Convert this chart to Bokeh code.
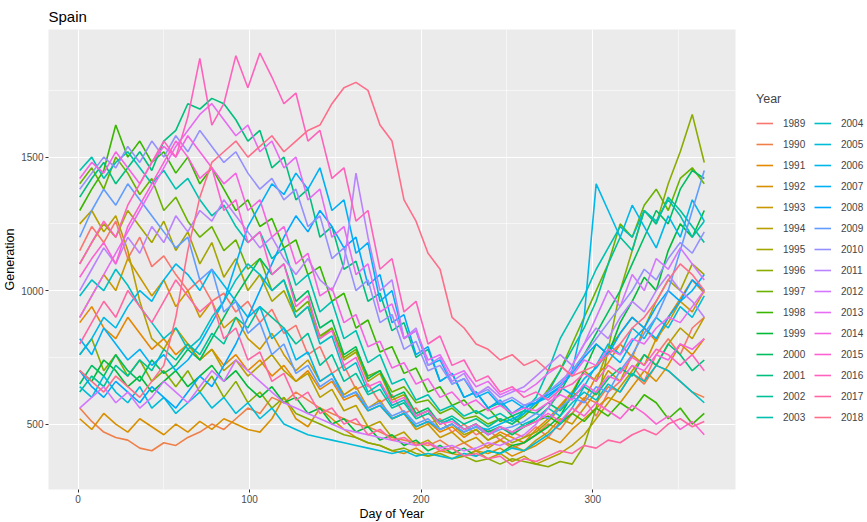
import math
from bokeh.plotting import figure
from bokeh.models import Range1d, FixedTicker, Legend, LegendItem
from bokeh.embed import file_html
from bokeh.resources import INLINE

# Weekly sampling days of the year
days = [1, 8, 15, 22, 29, 36, 43, 50, 57, 64, 71, 78, 85, 92, 99, 106, 113, 120,
        127, 134, 141, 148, 155, 162, 169, 176, 183, 190, 197, 204, 211, 218, 225,
        232, 239, 246, 253, 260, 267, 274, 281, 288, 295, 302, 309, 316, 323, 330,
        337, 344, 351, 358, 365]

years = [1989, 1990, 1991, 1992, 1993, 1994, 1995, 1996, 1997, 1998,
         1999, 2000, 2001, 2002, 2003, 2004, 2005, 2006, 2007, 2008,
         2009, 2010, 2011, 2012, 2013, 2014, 2015, 2016, 2017, 2018]

# Generation per year, one value per sampling day
gen_1989 = [1150, 1240, 1180, 1260, 1120, 1200, 1090, 1130, 1060, 1000, 1040, 960, 990, 920, 960, 880, 930, 840, 870, 760, 790, 690, 720, 630, 650, 580, 610, 540, 560, 500, 520, 470, 500, 460, 480, 440, 470, 450, 490, 450, 510, 540, 590, 530, 620, 660, 720, 660, 760, 820, 760, 860, 900]
gen_1990 = [560, 510, 470, 450, 440, 410, 400, 430, 420, 450, 470, 500, 480, 520, 560, 540, 600, 580, 620, 590, 560, 540, 520, 500, 490, 470, 450, 440, 430, 420, 440, 410, 430, 400, 420, 440, 410, 430, 460, 500, 480, 540, 600, 580, 640, 620, 690, 650, 720, 700, 660, 620, 600]
gen_1991 = [880, 940, 860, 820, 900, 840, 780, 820, 760, 800, 740, 780, 720, 760, 700, 740, 680, 720, 660, 700, 630, 660, 590, 610, 550, 570, 520, 540, 490, 510, 470, 490, 450, 480, 440, 470, 450, 430, 480, 520, 570, 620, 590, 680, 730, 800, 750, 860, 810, 900, 970, 1040, 990]
gen_1992 = [520, 480, 540, 500, 470, 520, 490, 460, 500, 470, 510, 480, 520, 500, 480, 470, 520, 600, 520, 490, 560, 520, 480, 450, 430, 420, 400, 390, 410, 380, 400, 390, 380, 400, 390, 410, 380, 400, 420, 450, 430, 480, 520, 560, 600, 580, 640, 700, 660, 720, 800, 760, 820]
gen_1993 = [900, 980, 1060, 1000, 1120, 1050, 980, 1040, 940, 1000, 900, 960, 860, 900, 820, 780, 840, 760, 700, 740, 660, 690, 610, 640, 560, 590, 520, 540, 480, 500, 450, 470, 430, 450, 410, 440, 420, 400, 440, 470, 520, 500, 560, 620, 700, 660, 760, 720, 820, 880, 960, 920, 1000]
gen_1994 = [1250, 1300, 1220, 1280, 1150, 960, 820, 780, 860, 800, 740, 780, 700, 740, 680, 720, 760, 700, 660, 690, 600, 630, 550, 570, 490, 510, 450, 470, 420, 440, 400, 410, 380, 400, 370, 390, 360, 380, 350, 370, 390, 420, 460, 520, 580, 640, 700, 760, 720, 800, 860, 820, 900]
gen_1995 = [1100, 1180, 1250, 1200, 1300, 1240, 1180, 1260, 1150, 1220, 1100, 1180, 1050, 1120, 1000, 1060, 960, 1000, 900, 940, 820, 860, 740, 770, 660, 690, 590, 610, 530, 550, 480, 500, 460, 480, 440, 460, 430, 450, 470, 510, 560, 620, 700, 660, 780, 840, 900, 860, 960, 1040, 1000, 1100, 1060]
gen_1996 = [760, 820, 700, 760, 680, 740, 660, 700, 640, 700, 620, 680, 600, 660, 580, 620, 560, 600, 540, 520, 500, 480, 460, 450, 430, 420, 400, 410, 390, 380, 390, 370, 380, 360, 370, 350, 370, 360, 350, 340, 360, 350, 420, 560, 780, 1000, 1150, 1300, 1250, 1400, 1520, 1660, 1480]
gen_1997 = [1400, 1460, 1380, 1500, 1440, 1360, 1420, 1300, 1350, 1260, 1200, 1240, 1150, 1190, 1080, 1120, 1000, 1040, 920, 960, 830, 860, 750, 780, 680, 700, 620, 640, 580, 590, 540, 560, 520, 530, 500, 520, 500, 530, 570, 630, 700, 800, 900, 1000, 1100, 1250, 1200, 1320, 1380, 1300, 1420, 1460, 1400]
gen_1998 = [1300, 1380, 1450, 1620, 1500, 1560, 1480, 1520, 1440, 1500, 1400, 1460, 1380, 1300, 1340, 1240, 1270, 1160, 1190, 1060, 1090, 960, 990, 860, 890, 770, 790, 690, 710, 620, 640, 570, 590, 540, 560, 510, 530, 490, 510, 530, 500, 540, 510, 560, 530, 580, 550, 610, 580, 520, 560, 500, 540]
gen_1999 = [700, 660, 740, 700, 640, 680, 620, 660, 700, 640, 680, 720, 660, 700, 640, 600, 640, 580, 600, 540, 560, 500, 520, 470, 490, 440, 460, 420, 440, 400, 420, 390, 410, 380, 400, 390, 420, 430, 460, 490, 530, 610, 700, 800, 760, 880, 960, 1050, 1000, 1150, 1250, 1200, 1300]
gen_2000 = [650, 720, 680, 760, 700, 660, 740, 690, 720, 780, 740, 820, 900, 980, 1050, 1120, 1060, 1100, 960, 1000, 860, 890, 760, 790, 670, 700, 600, 620, 540, 560, 500, 520, 480, 500, 470, 490, 460, 490, 520, 560, 620, 700, 760, 840, 920, 1000, 1100, 1200, 1300, 1250, 1380, 1450, 1420]
gen_2001 = [1350, 1420, 1480, 1400, 1460, 1520, 1450, 1560, 1600, 1700, 1680, 1720, 1700, 1640, 1560, 1600, 1460, 1500, 1340, 1380, 1200, 1240, 1080, 1110, 960, 990, 850, 880, 750, 780, 660, 690, 600, 620, 560, 580, 530, 550, 540, 580, 550, 600, 640, 610, 670, 710, 680, 760, 720, 800, 760, 700, 740]
gen_2002 = [620, 680, 640, 720, 680, 740, 700, 780, 740, 800, 760, 840, 800, 900, 860, 940, 900, 860, 800, 840, 720, 760, 660, 690, 610, 630, 560, 580, 520, 540, 510, 530, 500, 520, 490, 520, 500, 540, 580, 620, 700, 780, 860, 960, 1100, 1200, 1150, 1300, 1250, 1350, 1300, 1240, 1180]
gen_2003 = [1450, 1500, 1420, 1480, 1520, 1460, 1400, 1450, 1380, 1420, 1340, 1280, 1320, 1240, 1180, 1220, 1120, 1160, 1020, 1060, 920, 960, 820, 850, 730, 760, 650, 670, 590, 610, 550, 570, 530, 550, 520, 540, 510, 550, 600, 700, 820, 900, 980, 1080, 1160, 1240, 1200, 1300, 1260, 1340, 1280, 1200, 1260]
gen_2004 = [980, 1040, 1000, 1080, 1020, 940, 880, 820, 860, 780, 820, 900, 960, 1040, 1100, 1060, 1000, 1040, 900, 940, 800, 830, 700, 730, 620, 650, 570, 590, 530, 550, 500, 520, 480, 500, 460, 490, 470, 500, 520, 560, 530, 580, 620, 590, 650, 620, 690, 660, 720, 700, 660, 620, 580]
gen_2005 = [640, 600, 680, 620, 580, 640, 560, 600, 540, 580, 620, 560, 600, 540, 580, 520, 560, 500, 480, 460, 450, 440, 430, 420, 410, 400, 390, 400, 380, 390, 380, 370, 390, 380, 400, 390, 410, 400, 430, 460, 500, 560, 640, 720, 800, 760, 860, 820, 900, 860, 940, 900, 980]
gen_2006 = [760, 820, 900, 860, 940, 1000, 960, 1040, 1100, 1060, 1000, 1080, 1020, 960, 900, 940, 820, 860, 740, 770, 660, 690, 600, 620, 550, 570, 520, 540, 490, 510, 480, 500, 470, 490, 480, 500, 520, 540, 580, 620, 650, 700, 900, 1400, 1300, 1200, 1320, 1240, 1160, 1280, 1200, 1340, 1260]
gen_2007 = [820, 760, 860, 800, 740, 780, 720, 760, 700, 740, 800, 880, 960, 1100, 1240, 1320, 1400, 1360, 1440, 1380, 1460, 1300, 1340, 1140, 1180, 960, 1000, 820, 850, 720, 740, 650, 670, 600, 620, 570, 590, 560, 580, 600, 640, 610, 670, 710, 770, 730, 810, 860, 820, 900, 960, 1000, 1060]
gen_2008 = [700, 640, 600, 660, 620, 580, 640, 600, 560, 620, 680, 640, 720, 800, 900, 1000, 1100, 1200, 1280, 1220, 1300, 1240, 1160, 1200, 1020, 1060, 880, 910, 760, 790, 660, 690, 600, 620, 560, 590, 540, 570, 580, 610, 640, 690, 750, 800, 760, 840, 900, 860, 940, 1000, 960, 1040, 1000]
gen_2009 = [1200, 1300, 1380, 1320, 1400, 1340, 1280, 1220, 1160, 1200, 1040, 1080, 920, 960, 840, 880, 760, 800, 690, 720, 640, 670, 600, 620, 560, 580, 530, 550, 500, 520, 480, 500, 470, 490, 460, 480, 490, 510, 540, 520, 560, 600, 580, 640, 620, 700, 760, 840, 900, 1000, 1150, 1300, 1450]
gen_2010 = [1380, 1440, 1500, 1460, 1540, 1480, 1560, 1500, 1580, 1520, 1600, 1540, 1480, 1520, 1440, 1380, 1420, 1340, 1380, 1240, 1280, 1120, 1160, 1000, 1040, 880, 910, 780, 810, 700, 720, 650, 670, 610, 630, 580, 600, 570, 590, 620, 660, 700, 760, 820, 880, 940, 1000, 1080, 1040, 1120, 1180, 1140, 1220]
gen_2011 = [1000, 1080, 1160, 1100, 1200, 1140, 1240, 1180, 1280, 1220, 1300, 1260, 1340, 1280, 1220, 1160, 1200, 1120, 1060, 1120, 1040, 1000, 1100, 1440, 1200, 1000, 1040, 820, 860, 720, 750, 660, 690, 610, 640, 600, 620, 640, 680, 720, 760, 720, 800, 860, 820, 900, 960, 920, 1000, 1060, 1000, 960, 900]
gen_2012 = [560, 600, 640, 580, 620, 560, 600, 660, 620, 580, 640, 700, 660, 740, 700, 660, 620, 580, 560, 540, 520, 500, 480, 470, 460, 450, 440, 430, 420, 430, 410, 420, 400, 410, 430, 420, 440, 460, 500, 560, 640, 720, 800, 900, 1000, 940, 1060, 1000, 1120, 1080, 1160, 1100, 1040]
gen_2013 = [900, 980, 1060, 1140, 1220, 1300, 1380, 1460, 1540, 1600, 1660, 1700, 1640, 1580, 1620, 1520, 1560, 1460, 1500, 1340, 1380, 1200, 1240, 1060, 1100, 920, 950, 820, 850, 740, 760, 680, 700, 640, 660, 610, 630, 620, 650, 690, 720, 680, 740, 720, 780, 760, 820, 800, 860, 900, 880, 940, 1000]
gen_2014 = [1420, 1480, 1440, 1520, 1460, 1400, 1480, 1540, 1500, 1580, 1520, 1460, 1400, 1440, 1300, 1340, 1200, 1240, 1100, 1140, 980, 1010, 880, 910, 790, 810, 710, 730, 650, 670, 600, 620, 570, 590, 550, 570, 540, 560, 550, 580, 610, 590, 650, 620, 680, 660, 720, 700, 760, 740, 800, 780, 820]
gen_2015 = [1050, 1120, 1180, 1100, 1240, 1320, 1400, 1480, 1560, 1500, 1420, 1460, 1300, 1340, 1180, 1220, 1060, 1100, 940, 980, 820, 850, 720, 750, 640, 660, 580, 600, 530, 550, 500, 510, 480, 500, 460, 490, 470, 490, 510, 540, 510, 560, 530, 580, 550, 520, 570, 540, 500, 530, 480, 510, 460]
gen_2016 = [1100, 1180, 1260, 1200, 1320, 1400, 1480, 1560, 1500, 1650, 1870, 1620, 1700, 1880, 1760, 1890, 1800, 1700, 1740, 1560, 1600, 1420, 1460, 1260, 1300, 1080, 1120, 920, 960, 800, 830, 720, 740, 660, 680, 620, 640, 600, 620, 590, 630, 650, 690, 660, 720, 690, 750, 720, 780, 760, 720, 760, 700]
gen_2017 = [800, 880, 960, 900, 1000, 940, 880, 960, 1040, 980, 920, 960, 820, 860, 740, 770, 660, 690, 590, 620, 540, 560, 500, 520, 460, 480, 440, 450, 420, 430, 400, 410, 380, 390, 370, 380, 345, 370, 360, 380, 400, 390, 420, 410, 440, 430, 460, 480, 460, 500, 520, 490, 510]
gen_2018 = [700, 660, 620, 680, 640, 600, 660, 720, 900, 1150, 1350, 1480, 1520, 1560, 1500, 1540, 1580, 1520, 1560, 1600, 1620, 1700, 1760, 1780, 1750, 1620, 1560, 1340, 1260, 1140, 1080, 900, 860, 800, 780, 740, 760, 720, 740, 700, 720, 680, 700, 720, 760, 800, 860, 900, 960, 1040, 1100, 1060, 1000]

series = [gen_1989, gen_1990, gen_1991, gen_1992, gen_1993, gen_1994, gen_1995,
          gen_1996, gen_1997, gen_1998, gen_1999, gen_2000, gen_2001, gen_2002,
          gen_2003, gen_2004, gen_2005, gen_2006, gen_2007, gen_2008, gen_2009,
          gen_2010, gen_2011, gen_2012, gen_2013, gen_2014, gen_2015, gen_2016,
          gen_2017, gen_2018]

x_ticks = [0, 100, 200, 300]
y_ticks = [500, 1000, 1500]


def hcl_hex(h, c=100.0, l=65.0):
    """Polar CIE-Luv (HCL) to an sRGB hex string, D65 white."""
    hr = math.radians(h)
    u, v = c * math.cos(hr), c * math.sin(hr)
    xn, yn, zn = 95.047, 100.0, 108.883
    d = xn + 15 * yn + 3 * zn
    un, vn = 4 * xn / d, 9 * yn / d
    y = yn * ((l + 16) / 116) ** 3
    up, vp = u / (13 * l) + un, v / (13 * l) + vn
    x = 9 * y * up / (4 * vp)
    z = -x / 3 - 5 * y + 3 * y / vp
    x, y, z = x / 100, y / 100, z / 100
    rgb = [3.240479 * x - 1.537150 * y - 0.498535 * z,
           -0.969256 * x + 1.875992 * y + 0.041556 * z,
           0.055648 * x - 0.204043 * y + 1.057311 * z]

    def gam(t):
        t = 12.92 * t if t <= 0.0031308 else 1.055 * t ** (1 / 2.4) - 0.055
        return int(round(min(max(t, 0.0), 1.0) * 255))

    return "#%02X%02X%02X" % tuple(gam(t) for t in rgb)


# Evenly spaced hues, one per year
n = len(years)
palette = [hcl_hex(15 + 360 * i / n) for i in range(n)]

FONT = "Liberation Sans"

p = figure(frame_width=687, frame_height=460,
           x_range=Range1d(-17.2, 383.2), y_range=Range1d(255, 1978),
           output_backend="svg", toolbar_location=None, title="Spain",
           min_border_left=48, min_border_right=10, min_border_top=28,
           min_border_bottom=30)

p.background_fill_color = "#EBEBEB"
p.border_fill_color = "white"
p.outline_line_color = None

p.title.text_font = FONT
p.title.text_font_size = "15px"
p.title.text_font_style = "normal"
p.title.text_color = "black"

p.xaxis.ticker = FixedTicker(ticks=x_ticks, minor_ticks=[50, 150, 250, 350])
p.yaxis.ticker = FixedTicker(ticks=y_ticks, minor_ticks=[750, 1250, 1750])
p.xaxis.axis_label = "Day of Year"
p.yaxis.axis_label = "Generation"

for ax in (p.xaxis, p.yaxis):
    ax.axis_line_color = None
    ax.major_tick_line_color = "#333333"
    ax.major_tick_out = 3
    ax.major_tick_in = 0
    ax.minor_tick_line_color = None
    ax.major_label_text_font = FONT
    ax.major_label_text_font_size = "10px"
    ax.major_label_text_color = "#4D4D4D"
    ax.major_label_standoff = 1
    ax.axis_label_text_font = FONT
    ax.axis_label_text_font_size = "12.5px"
    ax.axis_label_text_font_style = "normal"
    ax.axis_label_text_color = "black"
    ax.axis_label_standoff = 1

for g in (p.xgrid, p.ygrid):
    g.grid_line_color = "white"
    g.grid_line_width = 1.1
    g.minor_grid_line_color = "white"
    g.minor_grid_line_width = 0.55

items = []
for yr, vals, col in zip(years, series, palette):
    r = p.line(days, vals, line_color=col, line_width=1.6)
    items.append(LegendItem(label=str(yr), renderers=[r]))

legend = Legend(items=items, title="Year", nrows=15, location="center_left",
                orientation="vertical")
legend.title_text_font = FONT
legend.title_text_font_size = "12.5px"
legend.title_text_font_style = "normal"
legend.title_standoff = 8
legend.label_text_font = FONT
legend.label_text_font_size = "10px"
legend.glyph_width = 17
legend.glyph_height = 18
legend.label_height = 18
legend.label_width = 28
legend.spacing = 3
legend.label_standoff = 10
legend.padding = 4
legend.margin = 21
legend.border_line_color = None
legend.background_fill_alpha = 0
p.add_layout(legend, "right")

open("out.html", "w").write(file_html(p, INLINE))
